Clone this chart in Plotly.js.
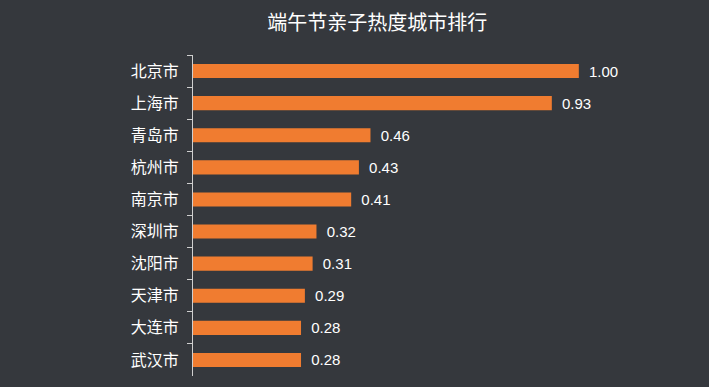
<!DOCTYPE html>
<html>
<head>
<meta charset="utf-8">
<script src="https://cdn.plot.ly/plotly-3.0.1.min.js"></script>
<style>html,body{margin:0;padding:0;background:#35383d;}</style>
</head>
<body>
<div id="chart" style="width:709px;height:387px;"></div>
<script>
const cities = ['北京市','上海市','青岛市','杭州市','南京市','深圳市','沈阳市','天津市','大连市','武汉市'];
const heat = [1.00, 0.93, 0.46, 0.43, 0.41, 0.32, 0.31, 0.29, 0.28, 0.28];
const heatLabels = heat.map(v => '\u00a0\u2009' + v.toFixed(2));

const trace = {
  type: 'bar',
  orientation: 'h',
  y: cities,
  x: heat,
  text: heatLabels,
  textposition: 'outside',
  constraintext: 'none',
  cliponaxis: false,
  textfont: {family: 'Liberation Sans, Arial, sans-serif', size: 15, color: '#ffffff'},
  marker: {color: '#f07c30'},
  hoverinfo: 'none'
};

const layout = {
  width: 709, height: 387,
  paper_bgcolor: '#35383d',
  plot_bgcolor: '#35383d',
  margin: {l: 193, r: 53, t: 55, b: 11},
  bargap: 0.56,
  showlegend: false,
  title: {
    text: '端午节亲子热度城市排行',
    font: {family: 'Noto Sans CJK SC, sans-serif', size: 20, color: '#ffffff'},
    x: 0.532, xanchor: 'center', xref: 'container',
    y: 0.94, yanchor: 'middle', yref: 'container'
  },
  xaxis: {
    range: [0, 1.2],
    visible: false,
    showgrid: false,
    zeroline: false
  },
  yaxis: {
    autorange: 'reversed',
    showline: true,
    linecolor: '#cfcfcf',
    linewidth: 1,
    ticks: 'outside',
    tickson: 'boundaries',
    ticklen: 5,
    tickcolor: '#cfcfcf',
    showgrid: false,
    ticklabelstandoff: 10,
    tickfont: {family: 'Noto Sans CJK SC, sans-serif', size: 16, color: '#ffffff'}
  }
};

Plotly.newPlot('chart', [trace], layout, {displayModeBar: false, staticPlot: true});
</script>
</body>
</html>
